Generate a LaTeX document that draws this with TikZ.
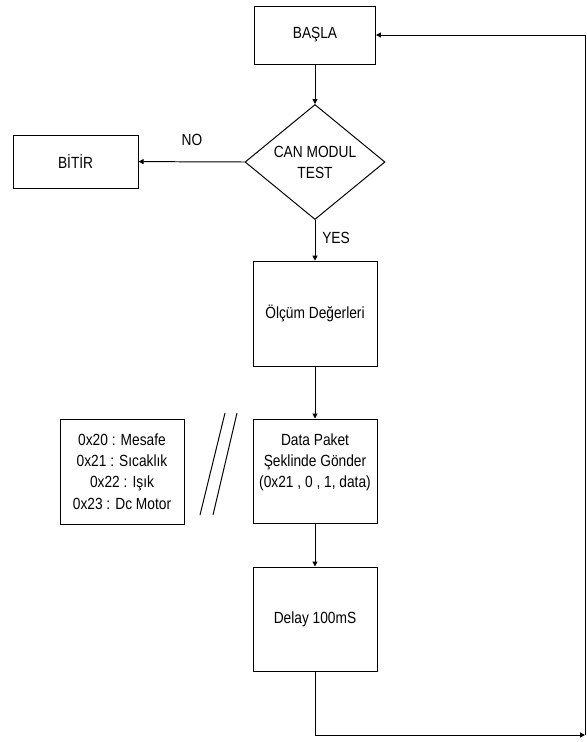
\documentclass[tikz,border=0pt]{standalone}
\usepackage{fontspec}
\setmainfont[FakeStretch=0.85]{Liberation Sans}
\usetikzlibrary{shapes.geometric,arrows.meta}
\tikzset{
	kutu/.style={draw=black, line width=0.7pt, fill=white, align=center,
		font=\fontsize{11.5}{15}\selectfont},
	karar/.style={kutu, shape=diamond, inner sep=0pt, aspect=1.22,
		minimum width=3.5cm, minimum height=2.875cm},
	ok/.style={draw=black, line width=0.7pt,
		-{Triangle[length=3.5pt,width=3.5pt]}},
	cizgi/.style={draw=black, line width=0.7pt},
	etiket/.style={font=\fontsize{11.5}{15}\selectfont}
}
\begin{document}
\begin{tikzpicture}
	\useasboundingbox (0,0) rectangle (14.675,-18.55);
	% Akis kutulari
	\node[kutu, minimum width=3.025cm, minimum height=1.45cm] (basla) at (7.875,-0.875) {BAŞLA};
	\node[karar] (test) at (7.875,-4.05) {CAN MODUL\\TEST};
	\node[kutu, minimum width=3.125cm, minimum height=1.325cm] (bitir) at (1.89,-4.04) {BİTİR};
	\node[kutu, minimum width=3.1cm, minimum height=2.625cm] (olcum) at (7.875,-7.84) {Ölçüm Değerleri};
	\node[kutu, minimum width=3.1cm, minimum height=2.6cm] (paket) at (7.875,-11.775)
		{Data Paket\\Şeklinde Gönder\\(0x21 , 0 , 1, data)\\\mbox{}};
	\node[kutu, minimum width=3.1cm, minimum height=2.6cm] (delay) at (7.875,-15.475) {Delay 100mS};
	% Kod listesi
	\node[kutu, minimum width=3.1cm, minimum height=2.625cm] (kodlar) at (3.05,-11.79)
		{0x20 : Mesafe\\0x21 : Sıcaklık\\0x22 : Işık\\0x23 : Dc Motor};
	% Etiketler
	\node[etiket] (no) at (4.8,-3.5) {NO};
	\node[etiket] (yes) at (8.4,-5.95) {YES};
	% Cift egik cizgi
	\coordinate (s1a) at (5.625,-10.325);
	\coordinate (s1b) at (5.0,-12.875);
	\coordinate (s2a) at (5.925,-10.325);
	\coordinate (s2b) at (5.325,-12.875);
	\draw[cizgi] (s1a) -- (s1b);
	\draw[cizgi] (s2a) -- (s2b);
	% Baglantilar
	\draw[ok] (basla) -- (test);
	\draw[ok] (test.west) -- (bitir.east);
	\draw[ok] (test) -- (olcum);
	\draw[ok] (olcum) -- (paket);
	\draw[ok] (paket) -- (delay);
	% Geri donus
	\coordinate (altsol) at (7.875,-18.375);
	\coordinate (altsag) at (14.625,-18.375);
	\coordinate (ustsag) at (14.625,-0.875);
	\draw[ok] (delay) -- (altsol) -- (altsag);
	\draw[ok] (altsag) -- (ustsag) -- (basla);
\end{tikzpicture}
\end{document}
